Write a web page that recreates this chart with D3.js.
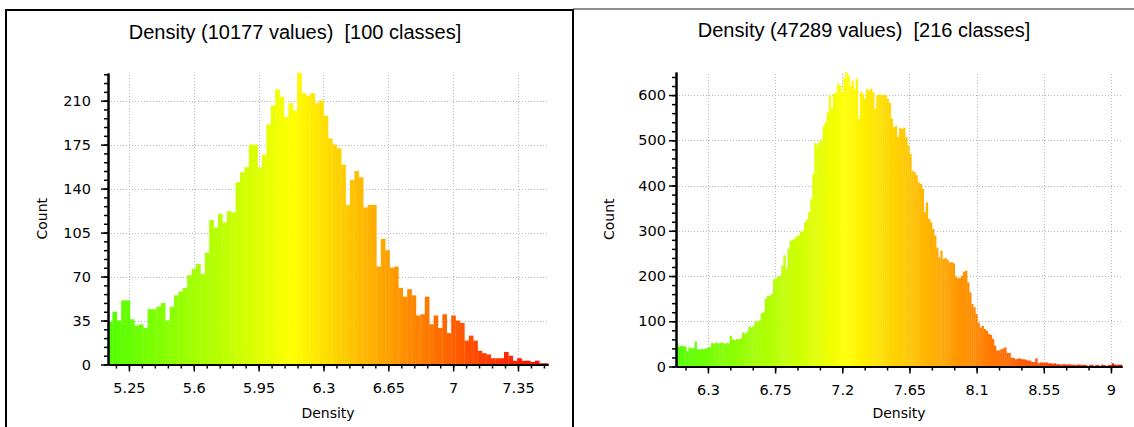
<!DOCTYPE html>
<html>
<head>
<meta charset="utf-8">
<script src="https://cdn.jsdelivr.net/npm/d3@7"></script>
<style>
body { margin: 0; background: #fff; }
svg text { font-family: "DejaVu Sans", sans-serif; fill: #000; }
.title { font-family: "Liberation Sans", Arial, sans-serif !important; }
.grid line { stroke: #b8b8b8; stroke-dasharray: 1,2; shape-rendering: crispEdges; }
.axis path, .axis line { stroke: #000; }
</style>
</head>
<body>
<svg id="chart" width="1134" height="427"></svg>
<script>
// ---- left histogram: 100 classes ----
var leftTitle = "Density (10177 values)  [100 classes]";
var leftRange = [5.137, 7.512];
var leftCounts = [
  34, 42, 35, 51, 51, 36, 31, 32, 29, 44,
  44, 46, 49, 35, 46, 55, 58, 61, 71, 76,
  80, 72, 89, 115, 109, 120, 113, 122, 121, 145,
  153, 157, 175, 175, 157, 167, 191, 206, 219, 213,
  197, 208, 202, 232, 216, 214, 216, 208, 210, 198,
  180, 175, 172, 159, 127, 147, 154, 149, 125, 127,
  127, 78, 100, 91, 77, 78, 61, 54, 60, 55,
  39, 40, 54, 32, 39, 29, 40, 25, 39, 35,
  33, 19, 23, 19, 11, 9, 8, 5, 5, 5,
  10, 7, 3, 5, 3, 3, 2, 3, 1, 1
];
var leftXTicks = [5.25, 5.6, 5.95, 6.3, 6.65, 7, 7.35];
var leftYTicks = [0, 35, 70, 105, 140, 175, 210];
var leftXMinorStep = 0.07;
var leftYMinorStep = 7;

// ---- right histogram: 216 classes ----
var rightTitle = "Density (47289 values)  [216 classes]";
var rightRange = [6.086, 9.074];
var rightCounts = [
  52, 44, 46, 45, 44, 34, 42, 40, 41, 55,
  38, 37, 39, 38, 40, 41, 43, 52, 50, 53,
  51, 52, 53, 50, 52, 51, 68, 60, 58, 61,
  60, 62, 75, 73, 76, 88, 86, 90, 100, 98,
  102, 118, 120, 150, 156, 157, 160, 193, 195, 199,
  200, 223, 246, 217, 261, 278, 280, 283, 288, 290,
  298, 300, 319, 325, 341, 370, 426, 494, 490, 496,
  500, 531, 540, 562, 600, 570, 603, 605, 625, 621,
  607, 638, 651, 644, 620, 632, 613, 636, 548, 607,
  603, 592, 613, 610, 614, 607, 570, 600, 601, 601,
  599, 600, 592, 583, 548, 529, 532, 507, 527, 525,
  528, 507, 489, 470, 433, 430, 423, 407, 404, 393,
  341, 363, 326, 319, 304, 289, 263, 241, 256, 238,
  240, 236, 230, 231, 228, 199, 195, 196, 201, 210,
  212, 186, 164, 138, 131, 116, 97, 86, 90, 83,
  79, 72, 70, 61, 46, 35, 36, 38, 40, 42,
  30, 30, 20, 19, 16, 17, 18, 16, 16, 15,
  13, 13, 10, 10, 18, 7, 9, 9, 8, 9,
  7, 7, 6, 7, 5, 5, 4, 5, 5, 4,
  5, 4, 4, 3, 4, 4, 3, 4, 3, 0,
  3, 4, 0, 3, 3, 0, 4, 3, 0, 3,
  3, 7, 4, 3, 4, 4
];
var rightXTicks = [6.3, 6.75, 7.2, 7.65, 8.1, 8.55, 9];
var rightYTicks = [0, 100, 200, 300, 400, 500, 600];
var rightXMinorStep = 0.15;
var rightYMinorStep = 20;

var svg = d3.select("#chart");

// panel frames
svg.append("path")
    .attr("d", "M6,440V10H573V440")
    .attr("fill", "none").attr("stroke", "#000").attr("stroke-width", 2);
svg.append("line")
    .attr("x1", 573).attr("x2", 1134).attr("y1", 9).attr("y2", 9)
    .attr("stroke", "#222").attr("stroke-width", 1);

function minors(domain, step) {
    var out = [];
    var v = Math.ceil(domain[0] / step) * step;
    for (; v <= domain[1] + 1e-9; v += step) out.push(+v.toFixed(4));
    return out;
}

function drawHist(o) {
    var g = svg.append("g");
    var n = o.counts.length;
    var bw = (o.range[1] - o.range[0]) / n;

    var x = d3.scaleLinear().domain(o.range).range([o.left, o.right]);
    var y = d3.scaleLinear().domain([0, d3.max(o.counts)]).range([o.bottom, o.top]);
    var color = d3.scaleLinear()
        .domain([0, o.mid, 1])
        .range(["#50ff00", "#ffff00", "#ff0000"]);

    // grid behind bars
    var grid = g.append("g").attr("class", "grid");
    grid.selectAll(".gx").data(o.xTicks).enter().append("line")
        .attr("x1", function (d) { return Math.round(x(d)) + 0.5; })
        .attr("x2", function (d) { return Math.round(x(d)) + 0.5; })
        .attr("y1", o.top + 2).attr("y2", o.bottom);
    grid.selectAll(".gy").data(o.yTicks.filter(function (d) { return d > 0; })).enter().append("line")
        .attr("y1", function (d) { return Math.round(y(d)) + 0.5; })
        .attr("y2", function (d) { return Math.round(y(d)) + 0.5; })
        .attr("x1", o.left).attr("x2", o.right);

    // bars
    g.append("g").selectAll("rect").data(o.counts).enter().append("rect")
        .attr("x", function (d, i) { return x(o.range[0] + i * bw); })
        .attr("width", function (d, i) { return x(o.range[0] + (i + 1) * bw) - x(o.range[0] + i * bw) + 0.25; })
        .attr("y", function (d) { return y(d); })
        .attr("height", function (d) { return y(0) - y(d); })
        .attr("fill", function (d, i) { return color((i + 0.5) / n); });

    // minor ticks
    g.append("g").attr("class", "axis")
        .attr("transform", "translate(0," + y(0) + ")")
        .call(d3.axisBottom(x).tickValues(minors(o.range, o.xMinor)).tickSize(4).tickSizeOuter(0).tickFormat(""));
    g.append("g").attr("class", "axis")
        .attr("transform", "translate(" + o.left + ",0)")
        .call(d3.axisLeft(y).tickValues(minors(y.domain(), o.yMinor)).tickSize(4).tickSizeOuter(0).tickFormat(""));

    // major axes
    g.append("g").attr("class", "axis")
        .attr("transform", "translate(0," + y(0) + ")")
        .call(d3.axisBottom(x).tickValues(o.xTicks).tickSize(7).tickPadding(11).tickSizeOuter(0)
            .tickFormat(function (d) { return String(d); }));
    g.append("g").attr("class", "axis")
        .attr("transform", "translate(" + o.left + ",0)")
        .call(d3.axisLeft(y).tickValues(o.yTicks).tickSize(7).tickPadding(o.yPad).tickSizeOuter(0)
            .tickFormat(function (d) { return String(d); }));

    g.selectAll(".axis path").attr("stroke-width", 2);
    g.selectAll(".axis line").attr("stroke-width", 1.5);
    g.selectAll(".axis text").attr("font-size", 14.5).attr("font-family", "DejaVu Sans").attr("fill", "#000");

    // titles and labels
    g.append("text").attr("class", "title")
        .attr("x", o.titleX).attr("y", o.titleY)
        .attr("text-anchor", "middle")
        .attr("font-size", 20)
        .style("white-space", "pre")
        .text(o.title);
    g.append("text")
        .attr("x", (o.left + o.right) / 2).attr("y", 418)
        .attr("text-anchor", "middle").attr("font-size", 14)
        .text("Density");
    g.append("text")
        .attr("transform", "translate(" + o.countX + "," + ((o.top + o.bottom) / 2) + ")rotate(-90)")
        .attr("text-anchor", "middle").attr("font-size", 14)
        .text("Count");
}

drawHist({
    title: leftTitle, range: leftRange, counts: leftCounts,
    xTicks: leftXTicks, yTicks: leftYTicks, xMinor: leftXMinorStep, yMinor: leftYMinorStep,
    left: 108, right: 548, top: 73, bottom: 364.5, mid: 0.42,
    yPad: 10, titleX: 295, titleY: 39, countX: 47
});
drawHist({
    title: rightTitle, range: rightRange, counts: rightCounts,
    xTicks: rightXTicks, yTicks: rightYTicks, xMinor: rightXMinorStep, yMinor: rightYMinorStep,
    left: 676, right: 1122, top: 72, bottom: 366.5, mid: 0.38,
    yPad: 3, titleX: 864, titleY: 37, countX: 614
});
</script>
</body>
</html>
